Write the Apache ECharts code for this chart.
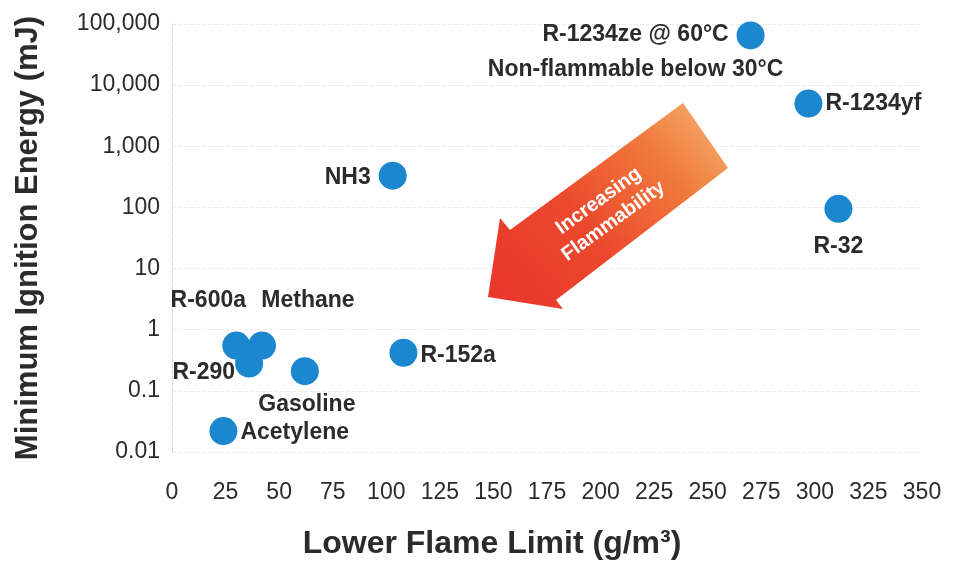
<!DOCTYPE html>
<html>
<head>
<meta charset="utf-8">
<script src="https://cdn.jsdelivr.net/npm/echarts@6/dist/echarts.min.js"></script>
<style>
  html, body { margin: 0; padding: 0; background: #fff; }
  #chart { width: 957px; height: 571px; }
</style>
</head>
<body>
<div id="chart"></div>
<script>
// values
var substances = ['R-1234ze', 'R-1234yf', 'R-32', 'NH3', 'R-152a', 'R-600a', 'Methane', 'R-290', 'Gasoline', 'Acetylene'];
var pointLabels = ['R-1234ze @ 60°C\nNon-flammable below 30°C', 'R-1234yf', 'R-32', 'NH3', 'R-152a', 'R-600a', 'Methane', 'R-290', 'Gasoline', 'Acetylene'];
var lowerFlameLimit = [270, 297, 311, 103, 108, 30, 42, 36, 62, 24];
var ignitionEnergy = [65000, 5000, 95, 330, 0.42, 0.55, 0.55, 0.28, 0.21, 0.022];
var xTicks = [0, 25, 50, 75, 100, 125, 150, 175, 200, 225, 250, 275, 300, 325, 350];
var yTickLabels = ['0.01', '0.1', '1', '10', '100', '1,000', '10,000', '100,000'];

var FONT = '"Liberation Sans", Arial, Helvetica, sans-serif';
var TEXT = '#2b2b2b';

// where each label sits around its dot
var labelLayout = {
  'R-1234ze': { position: 'inside', offset: [-115, 17], lineHeight: 35, align: 'center' },
  'R-1234yf': { position: 'right', distance: 3 },
  'R-32': { position: 'bottom', distance: 12 },
  'NH3': { position: 'left', distance: 8, offset: [0, 2] },
  'R-152a': { position: 'right', distance: 3, offset: [0, 3] },
  'R-600a': { position: 'top', distance: 19, offset: [-28, 0] },
  'Methane': { position: 'top', distance: 19, offset: [46, 0] },
  'R-290': { position: 'left', distance: 0, offset: [0, 9] },
  'Gasoline': { position: 'bottom', distance: 8, offset: [2, 0] },
  'Acetylene': { position: 'right', distance: 3, offset: [0, 2] }
};

var points = substances.map(function (name, i) {
  var lay = labelLayout[name];
  return {
    name: name,
    value: [lowerFlameLimit[i], ignitionEnergy[i]],
    label: Object.assign({
      show: true,
      formatter: pointLabels[i],
      color: TEXT,
      fontFamily: FONT,
      fontWeight: 'bold',
      fontSize: 23
    }, lay)
  };
});

var myChart = echarts.init(document.getElementById('chart'));

var option = {
  animation: false,
  backgroundColor: '#fff',
  grid: {
    left: 172,
    right: 35,
    top: 24,
    bottom: 119,
    outerBoundsMode: 'none'
  },
  xAxis: {
    type: 'value',
    min: xTicks[0],
    max: xTicks[xTicks.length - 1],
    interval: 25,
    name: 'Lower Flame Limit (g/m³)',
    nameLocation: 'middle',
    nameGap: 76,
    nameTextStyle: {
      color: TEXT,
      fontFamily: FONT,
      fontWeight: 'bold',
      fontSize: 32,
      padding: [0, 110, 0, 0]
    },
    axisLine: { show: false },
    axisTick: { show: false },
    splitLine: { show: false },
    axisLabel: {
      color: TEXT,
      fontFamily: FONT,
      fontSize: 23,
      margin: 29
    }
  },
  yAxis: {
    type: 'log',
    logBase: 10,
    min: 0.01,
    max: 100000,
    splitNumber: 7,
    name: 'Minimum Ignition Energy (mJ)',
    nameLocation: 'middle',
    nameRotate: 90,
    nameGap: 128,
    nameTextStyle: {
      color: TEXT,
      fontFamily: FONT,
      fontWeight: 'bold',
      fontSize: 31
    },
    axisLine: {
      show: true,
      lineStyle: { color: '#d8d8d8', type: 'dashed', width: 1 }
    },
    axisTick: { show: false },
    splitLine: {
      show: true,
      lineStyle: { color: '#ececec', type: 'dashed', width: 1 }
    },
    axisLabel: {
      color: TEXT,
      fontFamily: FONT,
      fontSize: 23,
      margin: 12,
      formatter: function (v) {
        var idx = Math.round(Math.log10(v)) + 2;
        return yTickLabels[idx] || '';
      }
    }
  },
  graphic: [
    {
      type: 'polygon',
      z: 1,
      shape: {
        points: [[488, 297], [500, 218], [510, 230], [683, 103], [728, 168], [556, 300], [563, 309]]
      },
      style: {
        fill: new echarts.graphic.LinearGradient(0, 1, 1, 0, [
          { offset: 0, color: '#e8352b' },
          { offset: 0.4, color: '#ec482d' },
          { offset: 0.72, color: '#f07a3c' },
          { offset: 1, color: '#f6b677' }
        ])
      }
    },
    {
      type: 'text',
      z: 2,
      x: 606,
      y: 211,
      rotation: 36 * Math.PI / 180,
      style: {
        text: 'Increasing\nFlammability',
        fill: '#ffffff',
        font: 'bold 20px ' + FONT,
        align: 'center',
        textAlign: 'center',
        verticalAlign: 'middle',
        textVerticalAlign: 'middle',
        lineHeight: 25
      }
    }
  ],
  series: [
    {
      type: 'scatter',
      symbol: 'circle',
      symbolSize: 28,
      z: 3,
      itemStyle: { color: '#1b87cf', opacity: 1 },
      data: points
    }
  ]
};

myChart.setOption(option);
</script>
</body>
</html>
